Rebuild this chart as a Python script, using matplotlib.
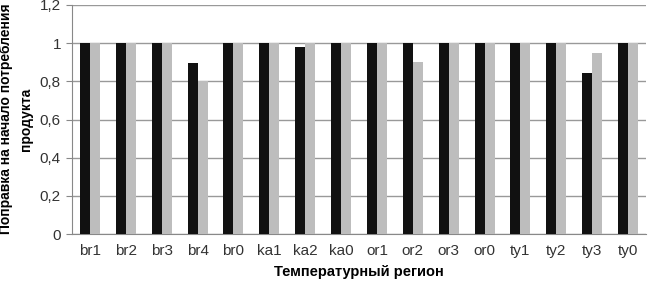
import matplotlib
matplotlib.use("Agg")
import matplotlib.pyplot as plt
import numpy as np

plt.rcParams["font.family"] = ["Liberation Sans", "DejaVu Sans"]

regions = ["br1", "br2", "br3", "br4", "br0", "ka1", "ka2", "ka0",
           "or1", "or2", "or3", "or0", "ty1", "ty2", "ty3", "ty0"]
series_black = [1, 1, 1, 0.895, 1, 1, 0.98, 1, 1, 1, 1, 1, 1, 1, 0.845, 1]
series_gray = [1, 1, 1, 0.8, 1, 1, 1, 1, 1, 0.9, 1, 1, 1, 1, 0.95, 1]
yticks = [0, 0.2, 0.4, 0.6, 0.8, 1.0, 1.2]
yticklabels = ["0", "0,2", "0,4", "0,6", "0,8", "1", "1,2"]

fig = plt.figure(figsize=(6.48, 2.81), dpi=100)
ax = fig.add_axes([72 / 648, 1 - 234 / 281, 574 / 648, 229 / 281])

x = np.arange(len(regions))
w = 0.28
ax.bar(x - w / 2, series_black, w, color="#111111", zorder=3)
ax.bar(x + w / 2, series_gray, w, color="#bdbdbd", zorder=3)

ax.set_xlim(-0.5, len(regions) - 0.5)
ax.set_ylim(0, 1.2)
ax.set_yticks(yticks)
ax.set_yticklabels(yticklabels, fontsize=11, color="#333333")
ax.set_xticks(x)
ax.set_xticklabels(regions, fontsize=11, color="#333333")
ax.tick_params(axis="x", length=0, pad=7)
ax.tick_params(axis="y", length=4, color="#888888", pad=4)

ax.grid(axis="y", color="#999999", linewidth=1, zorder=0)
for s in ["top", "right"]:
    ax.spines[s].set_visible(False)
ax.spines["left"].set_color("#888888")
ax.spines["bottom"].set_color("#888888")

ax.set_xlabel("Температурный регион", fontsize=10.5, fontweight="bold", labelpad=5)
# y label placed by hand so the two lines sit like in the original
fig.text(16 / 648, 1 - 119 / 281, "Поправка на начало потребления\nпродукта",
         rotation=90, ha="center", va="center", fontsize=10,
         fontweight="bold", linespacing=1.55)

fig.savefig("out.png", dpi=100)
